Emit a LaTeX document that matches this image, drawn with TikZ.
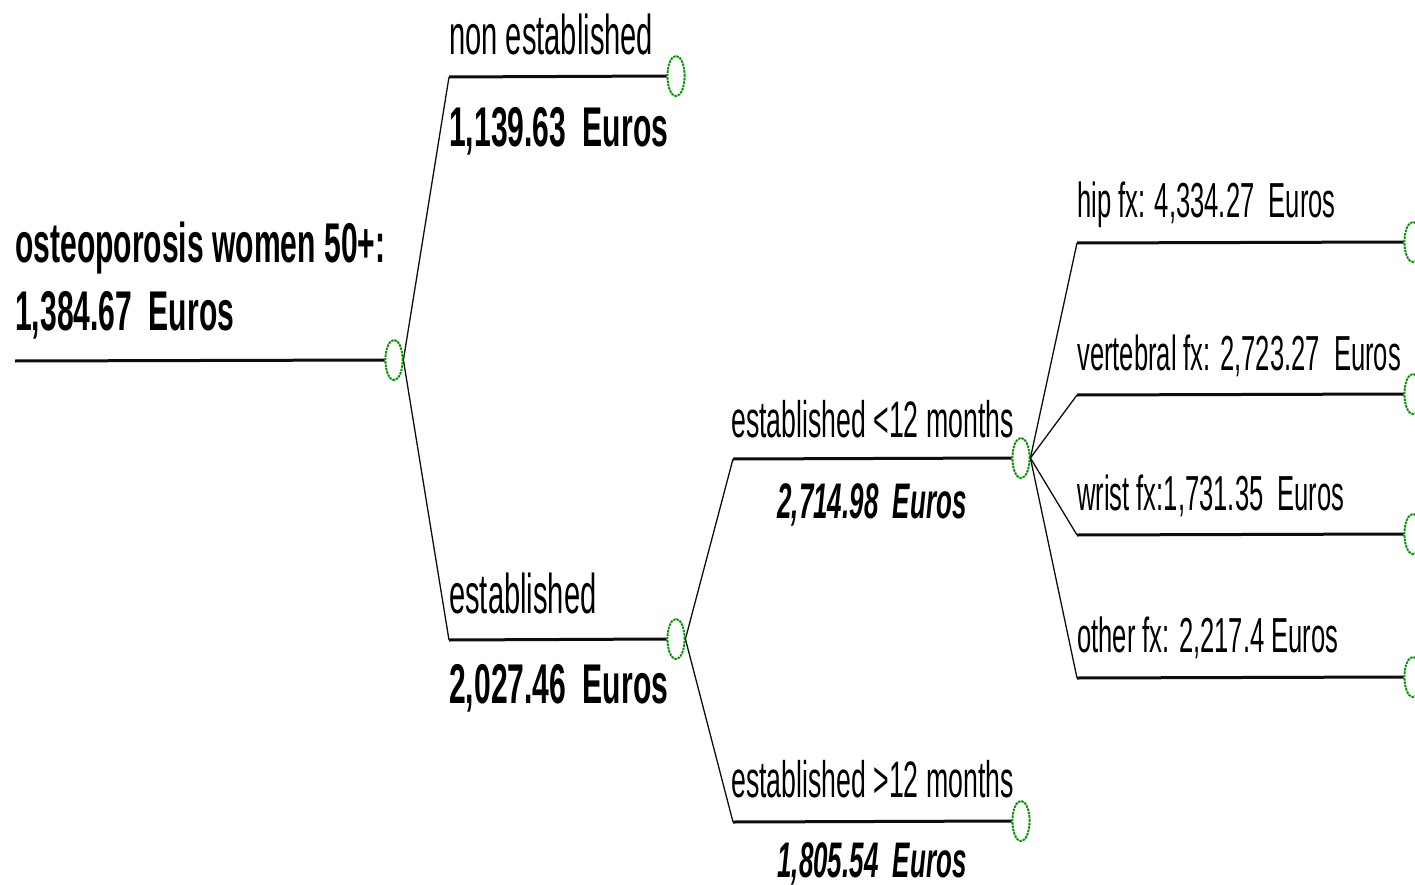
\documentclass[tikz,border=0pt]{standalone}
\usepackage{fontspec}
\usetikzlibrary{shapes.geometric}
\newfontfamily\condfont[FakeStretch=0.52,BoldFeatures={FakeStretch=0.537},
  BoldItalicFeatures={FakeStretch=0.52}]{Liberation Sans}
\definecolor{ChanceClr}{rgb}{0,0.6,0}
\definecolor{LineClr}{rgb}{0.05,0.05,0.05}

\begin{document}
\begin{tikzpicture}[x=1pt,y=-1pt,
  chance/.style={ellipse,draw=ChanceClr,line width=1.8pt,dash pattern=on 2.4pt off 1pt,
    minimum width=17pt,minimum height=40pt,inner sep=0pt,fill=white},
  stem/.style={draw=LineClr,line width=3pt},
  diag/.style={draw=LineClr,line width=1.3pt},
  big/.style={anchor=base west,inner sep=0pt,font=\condfont\fontsize{56}{60}\selectfont},
  mid/.style={anchor=base west,inner sep=0pt,font=\condfont\fontsize{51.3}{56}\selectfont},
  leaf/.style={anchor=base west,inner sep=0pt,font=\condfont\fontsize{49.2}{54}\selectfont}]
\useasboundingbox (0,0) rectangle (1415,885);

% chance nodes
\node[chance] (c0) at (394,360) {};
\node[chance] (c1) at (676,76) {};
\node[chance] (c2) at (676,639) {};
\node[chance] (c3) at (1021,458) {};
\node[chance] (c4) at (1021,821) {};
\node[chance] (hip) at (1413,242) {};
\node[chance] (vert) at (1413,394) {};
\node[chance] (wrist) at (1413,534) {};
\node[chance] (other) at (1413,677) {};

% corners of the branches
\coordinate (r0) at (15,361);
\coordinate (k1) at (449,77);
\coordinate (k2) at (449,640);
\coordinate (k3) at (733,459);
\coordinate (k4) at (733,822);
\coordinate (k5) at (1077,243);
\coordinate (k6) at (1077,395);
\coordinate (k7) at (1077,535);
\coordinate (k8) at (1077,678);

\draw[stem] (r0) -- (c0.west);
\foreach \k/\c in {k1/c1,k2/c2}{
  \draw[diag] (c0.east) -- (\k);
  \draw[stem] (\k) -- (\c.west);
}
\foreach \k/\c in {k3/c3,k4/c4}{
  \draw[diag] (c2.east) -- (\k);
  \draw[stem] (\k) -- (\c.west);
}
\foreach \k/\c in {k5/hip,k6/vert,k7/wrist,k8/other}{
  \draw[diag] (c3.east) -- (\k);
  \draw[stem] (\k) -- (\c.west);
}
% redraw the ovals over the line ends
\foreach \c in {c0,c1,c2,c3,c4,hip,vert,wrist,other}
  \node[chance] at (\c) {};

% labels
\node[big,font=\condfont\bfseries\fontsize{56}{60}\selectfont] (rootname) at (15,262) {osteoporosis women 50+:};
\node[big,font=\condfont\bfseries\fontsize{56}{60}\selectfont] (rootcost) at (15,330) {1,384.67\ \ Euros};

\node[big] (nonname) at (449,55) {non established};
\node[big,font=\condfont\bfseries\fontsize{56}{60}\selectfont] (noncost) at (449,147) {1,139.63\ \ Euros};

\node[big] (estname) at (449,613) {established};
\node[big,font=\condfont\bfseries\fontsize{56}{60}\selectfont] (estcost) at (449,703) {2,027.46\ \ Euros};

\node[mid] (recname) at (731,437) {established <12 months};
\node[mid,anchor=base,font=\condfont\bfseries\itshape\fontsize{50}{54}\selectfont] (reccost) at (872,518) {2,714.98\ \ Euros};

\node[mid] (oldname) at (731,797) {established >12 months};
\node[mid,anchor=base,font=\condfont\bfseries\itshape\fontsize{50}{54}\selectfont] (oldcost) at (872,877) {1,805.54\ \ Euros};

\node[leaf] (hiplbl) at (1077,218) {hip fx: 4,334.27\ \ Euros};
\node[leaf] (vertlbl) at (1077,370) {vertebral fx: 2,723.27\ \ Euros};
\node[leaf] (wristlbl) at (1077,510) {wrist fx:1,731.35\ \ Euros};
\node[leaf] (otherlbl) at (1077,652) {other fx: 2,217.4 Euros};

\end{tikzpicture}
\end{document}
